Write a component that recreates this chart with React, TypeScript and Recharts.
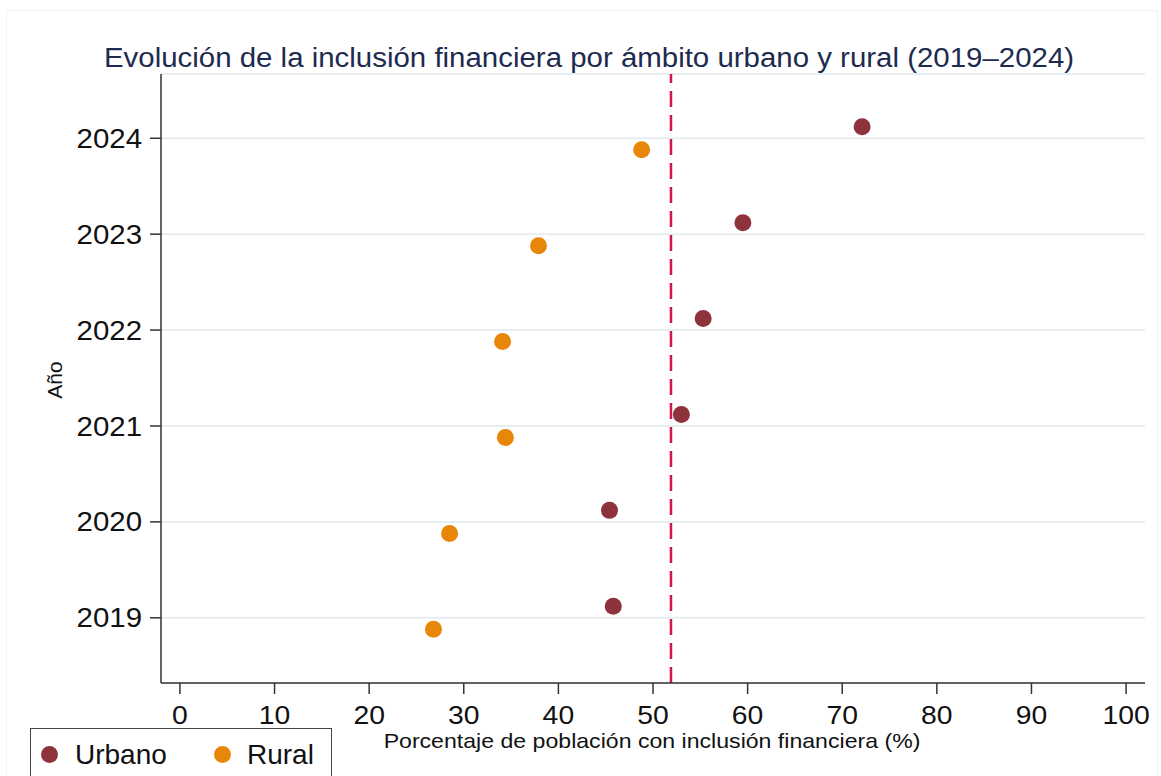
import React from 'react';
import {
  ScatterChart,
  Scatter,
  XAxis,
  YAxis,
  CartesianGrid,
  ReferenceLine,
} from 'recharts';

const years = [2019, 2020, 2021, 2022, 2023, 2024];
const urbano = [45.8, 45.4, 53.0, 55.3, 59.5, 72.1];
const rural = [26.8, 28.5, 34.4, 34.1, 37.9, 48.8];
const promedio = 51.9;
const xTicks = [0, 10, 20, 30, 40, 50, 60, 70, 80, 90, 100];

const URB_COLOR = '#8e333b';
const RUR_COLOR = '#e8860a';
const FONT = '"Liberation Sans", Arial, sans-serif';

const urbanoData = years.map((y, i) => ({ x: urbano[i], y: y + 0.12 }));
const ruralData = years.map((y, i) => ({ x: rural[i], y: y - 0.12 }));

const dot = (color: string) => (props: any) => (
  <circle cx={props.cx} cy={props.cy} r={8.5} fill={color} />
);

// stretched tick text, the source image is a bit wider than plain Arial
const XTick = (props: any) => {
  const { x, y, payload } = props;
  return (
    <text transform={`translate(${x},${y}) scale(1.09,1)`} textAnchor="middle" dy="0.71em" fontSize={26} fill="#111" fontFamily={FONT}>
      {payload.value}
    </text>
  );
};

const YTick = (props: any) => {
  const { x, y, payload } = props;
  return (
    <text transform={`translate(${x},${y}) scale(1.09,1)`} textAnchor="end" dy="0.355em" fontSize={27} fill="#111" fontFamily={FONT}>
      {payload.value}
    </text>
  );
};

export default function App() {
  return (
    <div style={{ position: 'absolute', left: 0, top: 0, width: 1161, height: 776, background: '#fff', overflow: 'hidden', fontFamily: FONT }}>
      <div style={{ position: 'absolute', left: 6, top: 10, width: 1150, height: 780, border: '1px solid #f2f2f2' }} />
      <div style={{ position: 'absolute', left: 589, top: 43, transform: 'translateX(-50%) scaleX(1.09)', fontSize: 27, color: '#1e2b4f', whiteSpace: 'nowrap' }}>
        Evolución de la inclusión financiera por ámbito urbano y rural (2019–2024)
      </div>
      <ScatterChart width={1161} height={776} margin={{ top: 74, right: 16, bottom: 33, left: 81 }} style={{ position: 'absolute', left: 0, top: 0 }}>
        <CartesianGrid vertical={false} stroke="#e6eef1" strokeWidth={2} />
        <XAxis
          type="number"
          dataKey="x"
          domain={[-2, 102]}
          ticks={xTicks}
          allowDataOverflow
          height={60}
          tickSize={11}
          tickMargin={12}
          stroke="#333"
          strokeWidth={1.5}
          tick={<XTick />}
        />
        <YAxis
          type="number"
          dataKey="y"
          domain={[2018.32, 2024.67]}
          ticks={years}
          allowDataOverflow
          width={80}
          tickSize={11}
          tickMargin={8}
          stroke="#333"
          strokeWidth={1.5}
          tick={<YTick />}
        />
        <ReferenceLine x={promedio} stroke="#d0184b" strokeWidth={2.5} strokeDasharray="16 8" />
        <Scatter name="Urbano" data={urbanoData} fill={URB_COLOR} shape={dot(URB_COLOR)} isAnimationActive={false} />
        <Scatter name="Rural" data={ruralData} fill={RUR_COLOR} shape={dot(RUR_COLOR)} isAnimationActive={false} />
      </ScatterChart>
      <div style={{ position: 'absolute', left: 652, top: 729, transform: 'translateX(-50%) scaleX(1.1)', fontSize: 21, color: '#111', whiteSpace: 'nowrap' }}>
        Porcentaje de población con inclusión financiera (%)
      </div>
      <div style={{ position: 'absolute', left: 55, top: 380, transform: 'translate(-50%, -50%) rotate(-90deg)', fontSize: 21, color: '#111', whiteSpace: 'nowrap' }}>
        Año
      </div>
      <div style={{ position: 'absolute', left: 30, top: 728, width: 300, height: 60, border: '1.5px solid #444', background: '#fff' }}>
        <div style={{ position: 'absolute', left: 10, top: 17, width: 17, height: 17, borderRadius: '50%', background: URB_COLOR }} />
        <div style={{ position: 'absolute', left: 44, top: 10, fontSize: 28, color: '#111' }}>Urbano</div>
        <div style={{ position: 'absolute', left: 183, top: 17, width: 17, height: 17, borderRadius: '50%', background: RUR_COLOR }} />
        <div style={{ position: 'absolute', left: 216, top: 10, fontSize: 28, color: '#111' }}>Rural</div>
      </div>
    </div>
  );
}
